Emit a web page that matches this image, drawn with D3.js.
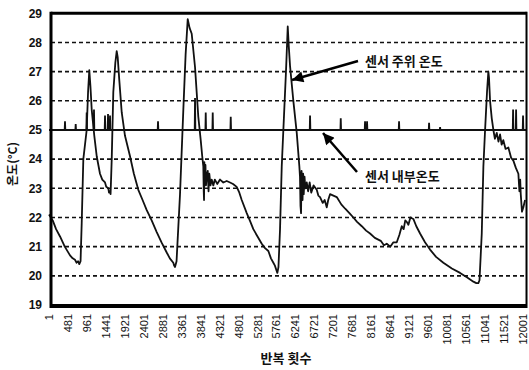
<!DOCTYPE html>
<html>
<head>
<meta charset="utf-8">
<script src="https://cdn.jsdelivr.net/npm/d3@7"></script>
<style>
  body { margin: 0; background: #fff; }
  svg { display: block; }
  text { fill: #111; }
</style>
</head>
<body>
<svg id="chart" width="529" height="370"></svg>
<script>
// 반복 횟수 tick labels
const xTicks = d3.range(1, 12002, 480);
const yTicks = [19, 20, 21, 22, 23, 24, 25, 26, 27, 28, 29];

// 센서 주위 온도 : [반복 횟수, 온도]
const ambient = [
  [1, 22.1], [95, 21.9], [180, 21.6], [280, 21.35], [400, 21.0], [533, 20.7], [600, 20.6],
  [659, 20.55], [700, 20.45], [740, 20.5], [768, 20.4], [800, 20.5], [829, 21.8], [870, 24.0],
  [955, 25.0], [990, 26.3], [1021, 27.05], [1050, 26.5], [1082, 25.7], [1148, 24.8], [1209, 24.1],
  [1292, 23.5], [1350, 23.3], [1419, 23.2], [1450, 23.05], [1503, 23.0], [1520, 22.85], [1546, 22.9],
  [1560, 22.8], [1589, 24.0], [1629, 26.3], [1680, 27.3], [1715, 27.7], [1740, 27.5], [1781, 26.7],
  [1842, 25.6], [1925, 24.8], [2052, 24.1], [2150, 23.5], [2262, 22.95], [2370, 22.6], [2475, 22.25],
  [2600, 21.9], [2728, 21.5], [2850, 21.15], [2981, 20.8], [3060, 20.6], [3148, 20.45], [3170, 20.35],
  [3191, 20.3], [3230, 20.5], [3318, 22.8], [3402, 25.7], [3460, 27.6], [3513, 28.8], [3560, 28.5],
  [3614, 28.3], [3698, 27.15], [3781, 25.45], [3842, 24.65], [3880, 24.1], [3908, 23.75], [3918, 22.9],
  [3926, 22.6], [3934, 23.9], [3950, 23.3], [3962, 23.8], [3975, 23.1], [3994, 23.4], [4020, 23.6],
  [4040, 22.9], [4060, 23.5], [4090, 23.1], [4120, 23.3], [4161, 23.1], [4200, 23.3], [4260, 23.15],
  [4330, 23.3], [4414, 23.2], [4500, 23.25], [4584, 23.2], [4660, 23.15], [4753, 23.05], [4820, 22.85],
  [4880, 22.6], [5007, 22.15], [5100, 21.85], [5174, 21.6], [5280, 21.35], [5387, 21.1], [5470, 20.95],
  [5554, 20.85], [5620, 20.6], [5681, 20.45], [5720, 20.35], [5782, 20.1], [5810, 20.3], [5850, 21.6],
  [5893, 23.75], [5934, 25.0], [6002, 27.05], [6045, 28.55], [6070, 27.9], [6103, 27.2], [6187, 26.0],
  [6273, 24.9], [6339, 23.75], [6355, 23.4], [6368, 22.4], [6382, 22.15], [6395, 23.6], [6407, 23.3],
  [6420, 22.6], [6435, 23.5], [6450, 22.8], [6470, 23.4], [6490, 23.0], [6526, 23.2], [6560, 22.9],
  [6600, 23.2], [6640, 22.85], [6700, 23.1], [6779, 22.95], [6820, 22.75], [6863, 22.7], [6930, 22.5],
  [6980, 22.6], [7032, 22.35], [7070, 22.6], [7116, 22.8], [7200, 22.75], [7286, 22.7], [7400, 22.45],
  [7500, 22.3], [7606, 22.15], [7706, 22.0], [7800, 21.85], [7920, 21.7], [8029, 21.55], [8129, 21.45],
  [8250, 21.3], [8400, 21.2], [8480, 21.05], [8552, 21.1], [8640, 21.0], [8720, 21.15], [8805, 21.15],
  [8870, 21.4], [8932, 21.7], [8980, 21.6], [9020, 21.9], [9058, 21.85], [9100, 21.75], [9150, 22.0],
  [9225, 21.95], [9300, 21.7], [9395, 21.45], [9520, 21.15], [9648, 20.9], [9800, 20.65], [9985, 20.45],
  [10200, 20.25], [10408, 20.1], [10580, 19.95], [10745, 19.8], [10820, 19.75], [10871, 19.75],
  [10900, 19.85], [10957, 21.45], [10998, 23.75], [11041, 25.0], [11090, 26.3], [11124, 27.0],
  [11140, 26.8], [11167, 26.0], [11210, 25.4], [11251, 25.0], [11290, 24.7], [11337, 24.9],
  [11380, 24.6], [11420, 24.85], [11460, 24.5], [11503, 24.65], [11560, 24.35], [11630, 24.4],
  [11700, 24.05], [11757, 23.95], [11820, 23.7], [11884, 23.5], [11910, 22.9], [11930, 23.3],
  [11944, 22.8], [11975, 22.2], [12010, 22.35], [12053, 22.6]
];

// 센서 내부온도 : 25 ℃ 기준선 위의 짧은 스파이크 [반복 횟수, 최고값]
const innerSpikes = [
  [406, 25.3], [677, 25.2], [955, 25.6], [1140, 25.7], [1419, 25.5], [1495, 25.55], [1546, 25.5],
  [2761, 25.3], [3698, 26.1], [3969, 25.6], [4146, 25.6], [4602, 25.45], [6610, 25.5], [7387, 25.4],
  [8002, 25.3], [8053, 25.3], [8863, 25.3], [9623, 25.25], [9902, 25.1], [11750, 25.7],
  [11826, 25.7], [12002, 25.5]
];
const innerBase = 25;
const xEnd = 12090;

const svg = d3.select("#chart");

const x = d3.scaleLinear().domain([1, 12001]).range([49, 523]);
const y = d3.scaleLinear().domain([19, 29]).range([305, 13.3]);

// dashed grid
svg.append("g")
  .selectAll("line")
  .data(yTicks.filter(d => d > 19 && d < 29 && d !== 25))
  .join("line")
  .attr("x1", x(1) + 2)
  .attr("x2", x(xEnd))
  .attr("y1", d => y(d))
  .attr("y2", d => y(d))
  .style("stroke", "#111")
  .style("stroke-width", 1.6)
  .style("stroke-dasharray", "4,3");

// inner sensor line (flat 25 with spikes)
const innerPts = [[1, innerBase]];
innerSpikes.forEach(s => {
  innerPts.push([s[0] - 8, innerBase], [s[0], s[1]], [s[0] + 8, innerBase]);
});
innerPts.push([xEnd, innerBase]);

const line = d3.line().x(d => x(d[0])).y(d => y(d[1]));

svg.append("path")
  .datum(innerPts)
  .attr("d", line)
  .style("fill", "none")
  .style("stroke", "#111")
  .style("stroke-width", 1.8);

// ambient temperature
svg.append("path")
  .datum(ambient)
  .attr("d", line)
  .style("fill", "none")
  .style("stroke", "#111")
  .style("stroke-width", 1.8)
  .style("stroke-linejoin", "round");

// frame
const fx0 = x(1) + 2, fx1 = x(xEnd), fy0 = y(29), fy1 = y(19);
svg.append("line").attr("x1", fx0).attr("x2", fx1).attr("y1", fy0).attr("y2", fy0)
  .style("stroke", "#000").style("stroke-width", 3);
svg.append("line").attr("x1", fx0).attr("x2", fx1).attr("y1", fy1 + 1).attr("y2", fy1 + 1)
  .style("stroke", "#000").style("stroke-width", 4);
svg.append("line").attr("x1", fx0).attr("x2", fx0).attr("y1", fy0 - 1.5).attr("y2", fy1 + 3)
  .style("stroke", "#000").style("stroke-width", 3);
svg.append("line").attr("x1", fx1).attr("x2", fx1).attr("y1", fy0 - 1.5).attr("y2", fy1 + 3)
  .style("stroke", "#000").style("stroke-width", 2);

// y tick labels
svg.append("g")
  .selectAll("text")
  .data(yTicks)
  .join("text")
  .attr("x", 42)
  .attr("y", d => y(d))
  .attr("dy", "0.36em")
  .attr("text-anchor", "end")
  .style("font-family", "'Liberation Sans Narrow', 'Liberation Sans', Arial, sans-serif")
  .style("font-size", "12px")
  .style("font-weight", "bold")
  .text(d => d);

// x tick labels (rotated)
svg.append("g")
  .selectAll("text")
  .data(xTicks)
  .join("text")
  .attr("transform", d => `translate(${x(d)},314) rotate(-90)`)
  .attr("dy", "0.36em")
  .attr("text-anchor", "end")
  .style("font-family", "'Liberation Sans', Arial, sans-serif")
  .style("font-size", "11px")
  .text(d => d);

// axis titles
svg.append("text")
  .attr("transform", "translate(13,164) rotate(-90)")
  .attr("text-anchor", "middle")
  .attr("dy", "0.36em")
  .style("font-family", "'Noto Sans CJK KR', sans-serif")
  .style("font-size", "12px")
  .style("font-weight", "bold")
  .text("온도(°C)");

svg.append("text")
  .attr("x", 286)
  .attr("y", 363)
  .attr("text-anchor", "middle")
  .style("font-family", "'Noto Sans CJK KR', sans-serif")
  .style("font-size", "13px")
  .style("font-weight", "bold")
  .text("반복 횟수");

// annotations
svg.append("defs").append("marker")
  .attr("id", "head")
  .attr("viewBox", "0 0 10 10")
  .attr("refX", 10).attr("refY", 5)
  .attr("markerWidth", 5).attr("markerHeight", 4.5)
  .attr("markerUnits", "strokeWidth")
  .attr("orient", "auto")
  .append("path")
  .attr("d", "M0,0 L10,5 L0,10 Z")
  .style("fill", "#000");

const notes = [
  { label: "센서 주위 온도", tx: 365, ty: 66, from: [358, 61], to: [292, 80] },
  { label: "센서 내부온도", tx: 365, ty: 181, from: [357, 172], to: [323, 133] }
];

svg.append("g")
  .selectAll("line")
  .data(notes)
  .join("line")
  .attr("x1", d => d.from[0]).attr("y1", d => d.from[1])
  .attr("x2", d => d.to[0]).attr("y2", d => d.to[1])
  .attr("marker-end", "url(#head)")
  .style("stroke", "#000")
  .style("stroke-width", 2.5);

svg.append("g")
  .selectAll("text")
  .data(notes)
  .join("text")
  .attr("x", d => d.tx)
  .attr("y", d => d.ty)
  .style("font-family", "'Noto Sans CJK KR', sans-serif")
  .style("font-size", "13px")
  .style("font-weight", "bold")
  .text(d => d.label);
</script>
</body>
</html>
